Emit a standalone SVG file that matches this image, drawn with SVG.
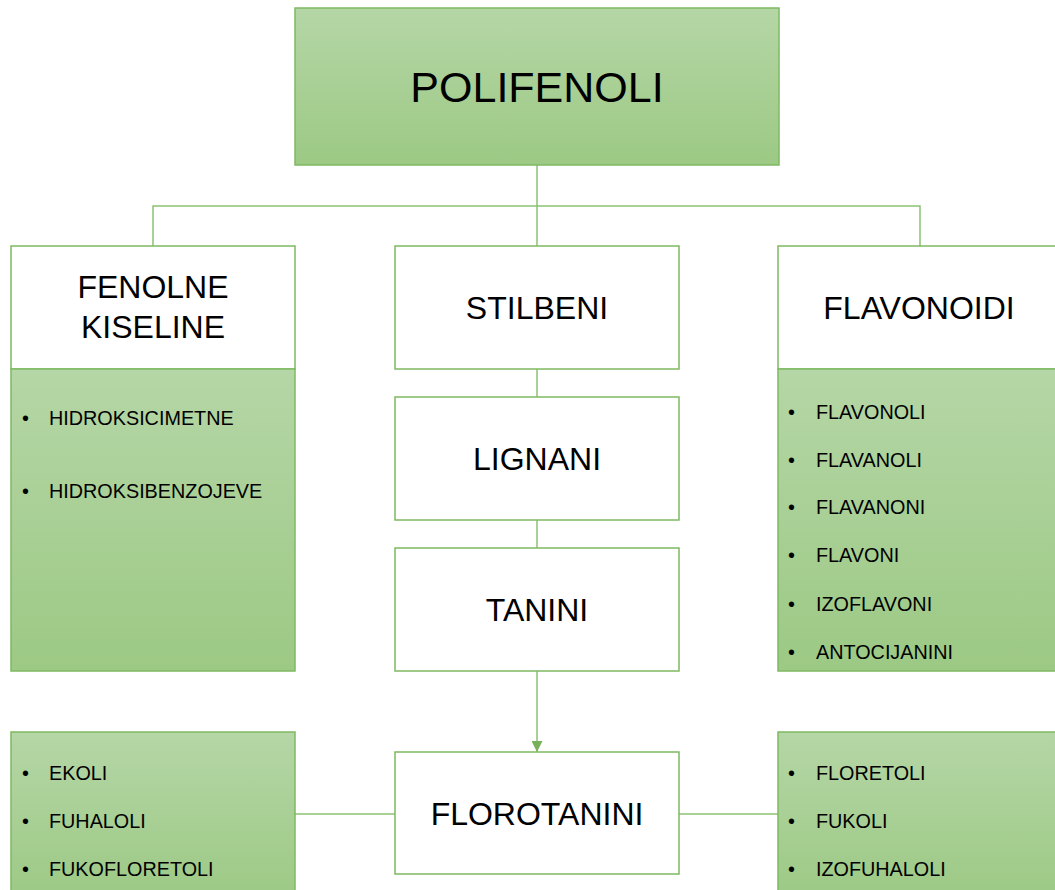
<svg xmlns="http://www.w3.org/2000/svg" width="1055" height="890" viewBox="0 0 1055 890">
<defs>
<linearGradient id="g" x1="0" y1="0" x2="0" y2="1">
<stop offset="0" stop-color="#b5d6a6"/>
<stop offset="1" stop-color="#9cc984"/>
</linearGradient>
<marker id="arr" viewBox="0 0 10 10" refX="10" refY="5" markerWidth="11" markerHeight="11" markerUnits="userSpaceOnUse" orient="auto">
<path d="M0,0 L10,5 L0,10 Z" fill="#77b25a"/>
</marker>
<style>
.box{stroke:#7fb962;stroke-width:1.5}
.w{fill:#ffffff}
.gr{fill:url(#g)}
.t{font-family:"Liberation Sans",Arial,sans-serif;fill:#000}
.h{font-size:32px;text-anchor:middle}
.b{font-size:19.8px}
.c{fill:none;stroke:#8cc273;stroke-width:1.5}
</style>
</defs>
<rect width="1055" height="890" fill="#ffffff"/>
<g id="connectors">
<line class="c" x1="537" y1="165" x2="537" y2="246"/>
<polyline class="c" points="153,246 153,206 920,206 920,246"/>
<line class="c" x1="537" y1="369" x2="537" y2="397"/>
<line class="c" x1="537" y1="520" x2="537" y2="548"/>
<line class="c" x1="537" y1="671" x2="537" y2="752" marker-end="url(#arr)"/>
<line class="c" x1="295" y1="814" x2="395" y2="814"/>
<line class="c" x1="679" y1="814" x2="778" y2="814"/>
</g>
<g id="polifenoli">
<rect class="box gr" x="295" y="8" width="484" height="157"/>
<text class="t" x="537" y="102" font-size="43" text-anchor="middle">POLIFENOLI</text>
</g>
<g id="fenolne-kiseline">
<rect class="box w" x="11" y="246" width="284" height="123"/>
<text class="t h" x="153" y="298">FENOLNE</text>
<text class="t h" x="153" y="338">KISELINE</text>
</g>
<g id="fenolne-list">
<rect class="box gr" x="11" y="369" width="284" height="302"/>
<text class="t b" x="22" y="425">•</text><text class="t b" x="49" y="425">HIDROKSICIMETNE</text>
<text class="t b" x="22" y="498">•</text><text class="t b" x="49" y="498">HIDROKSIBENZOJEVE</text>
</g>
<g id="stilbeni">
<rect class="box w" x="395" y="246" width="284" height="123"/>
<text class="t h" x="537" y="319">STILBENI</text>
</g>
<g id="lignani">
<rect class="box w" x="395" y="397" width="284" height="123"/>
<text class="t h" x="537" y="470">LIGNANI</text>
</g>
<g id="tanini">
<rect class="box w" x="395" y="548" width="284" height="123"/>
<text class="t h" x="537" y="621">TANINI</text>
</g>
<g id="flavonoidi">
<rect class="box w" x="778" y="246" width="290" height="123"/>
<text class="t h" x="919" y="319">FLAVONOIDI</text>
</g>
<g id="flavonoidi-list">
<rect class="box gr" x="778" y="369" width="290" height="302"/>
<text class="t b" x="788" y="419">•</text><text class="t b" x="816" y="419">FLAVONOLI</text>
<text class="t b" x="788" y="467">•</text><text class="t b" x="816" y="467">FLAVANOLI</text>
<text class="t b" x="788" y="514">•</text><text class="t b" x="816" y="514">FLAVANONI</text>
<text class="t b" x="788" y="562">•</text><text class="t b" x="816" y="562">FLAVONI</text>
<text class="t b" x="788" y="611">•</text><text class="t b" x="816" y="611">IZOFLAVONI</text>
<text class="t b" x="788" y="659">•</text><text class="t b" x="816" y="659">ANTOCIJANINI</text>
</g>
<g id="florotanini">
<rect class="box w" x="395" y="752" width="284" height="122"/>
<text class="t h" x="537" y="825">FLOROTANINI</text>
</g>
<g id="left-list">
<rect class="box gr" x="11" y="732" width="284" height="170"/>
<text class="t b" x="22" y="780">•</text><text class="t b" x="49" y="780">EKOLI</text>
<text class="t b" x="22" y="828">•</text><text class="t b" x="49" y="828">FUHALOLI</text>
<text class="t b" x="22" y="876">•</text><text class="t b" x="49" y="876">FUKOFLORETOLI</text>
</g>
<g id="right-list">
<rect class="box gr" x="778" y="732" width="290" height="170"/>
<text class="t b" x="788" y="780">•</text><text class="t b" x="816" y="780">FLORETOLI</text>
<text class="t b" x="788" y="828">•</text><text class="t b" x="816" y="828">FUKOLI</text>
<text class="t b" x="788" y="876">•</text><text class="t b" x="816" y="876">IZOFUHALOLI</text>
</g>
</svg>
